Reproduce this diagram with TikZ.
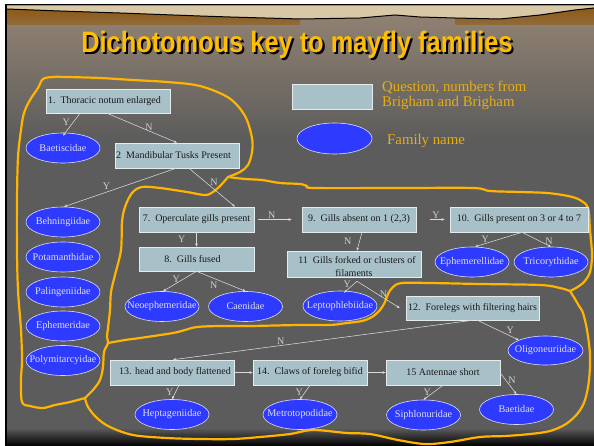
\documentclass[tikz,border=0pt]{standalone}
\usepackage{fontspec}
\setmainfont{Liberation Serif}
\newfontfamily\titlefont{Liberation Sans}
\usetikzlibrary{shapes.geometric,arrows.meta,calc}
\definecolor{famblue}{HTML}{2E3BFF}
\definecolor{famtext}{HTML}{DCDCFF}
\definecolor{boxfill}{HTML}{A8C0C8}
\definecolor{boxline}{HTML}{E4ECEC}
\definecolor{boxtext}{HTML}{1A1A1A}
\definecolor{linec}{HTML}{DADADA}
\definecolor{lblc}{HTML}{D0D0D0}
\definecolor{loopc}{HTML}{FFB400}
\definecolor{legc}{HTML}{E8AE10}
\definecolor{titlec}{HTML}{FFBE00}
\definecolor{slidegray}{HTML}{5C5C5C}
\definecolor{slidetop}{HTML}{948473}
\definecolor{sky}{HTML}{D8C8A8}
\definecolor{hill}{HTML}{8E5A16}
\newcommand\famtxt[1]{\makebox[0pt]{#1}}
\newcommand\titletxt{Dichotomous key to mayfly families}
\begin{document}
\begin{tikzpicture}[x=1pt,y=-1pt,
  qbox/.style={draw=boxline, fill=boxfill, line width=0.6pt, minimum height=25pt,
    inner xsep=1pt, inner ysep=1pt, font=\fontsize{10}{12.5}\selectfont, text=boxtext, align=center},
  fam/.style={ellipse, draw=famtext, line width=0.6pt, fill=famblue, text=famtext,
    minimum width=74pt, minimum height=30pt, inner sep=0pt, font=\fontsize{10.2}{12}\selectfont},
  arr/.style={draw=linec, line width=0.55pt, -{Stealth[length=3.2pt,width=2.6pt]}},
  lbl/.style={text=lblc, font=\fontsize{10}{10}\selectfont, inner sep=1pt},
  loopy/.style={draw=loopc, line width=2.2pt, line cap=round, line join=round}]
\useasboundingbox (0,0) rectangle (594,446);
% ---------- background ----------
\fill[white] (0,0) rectangle (594,446);
\fill[black] (5,4) rectangle (594,446);
\shade[top color=slidetop, bottom color=slidegray] (7,6) rectangle (594,140);
\fill[slidegray] (7,139) rectangle (594,429);
\shade[top color=slidegray, bottom color=black] (7,428) rectangle (594,446);
% landscape band
\fill[sky] (7,6) -- (594,6) -- (594,8) -- (575,10) -- (540,15) -- (500,19) -- (455,18) -- (420,17)
  -- (395,15) -- (360,18) -- (300,19) -- (230,17) -- (200,16) -- (120,13) -- (60,11) -- (7,9) -- cycle;
\shade[top color=hill, bottom color=hill!60!slidetop] (7,9) -- (60,11) -- (120,13) -- (200,16) -- (230,17)
  -- (300,19) -- (300,25) -- (7,25) -- cycle;
\shade[top color=hill, bottom color=hill!60!slidetop] (455,18) -- (500,19) -- (540,15) -- (575,10)
  -- (594,8) -- (594,25) -- (455,25) -- cycle;
\draw[black, line width=1pt] (7,9) -- (60,11) -- (120,13) -- (200,16) -- (230,17) -- (300,19) -- (360,18)
  -- (395,15) -- (420,17) -- (455,18) -- (500,19) -- (540,15) -- (575,10) -- (594,8);
% ---------- title (with its drop shadow) ----------
\node[text=titlec, inner sep=0pt] (title) at (297,46)
  {\titlefont\bfseries\fontsize{29.5}{29.5}\selectfont\scalebox{0.86}[1]{\rlap{\hspace{2.4pt}\raisebox{-2.2pt}{\color{black}\titletxt}}\titletxt}};
% ---------- yellow loops ----------
\draw[loopy] plot[smooth,tension=0.55] coordinates {(228,177) (240,172) (248,165) (252,152) (252,138)
  (245,116) (229,98) (200,86) (167,82) (133,80) (100,78) (67,77) (53,77) (43,79) (38,88) (30,100)
  (24,113) (21,130) (18,157) (17,200) (17,250) (18,290) (21,330) (22,360) (21,380) (22,402) (30,406)
  (43,408) (55,405) (70,402) (85,398)};
\draw[loopy] plot[smooth,tension=0.55] coordinates {(228,177) (221,185) (213,192) (205,195) (187,192)
  (160,188) (142,187) (132,193) (125,207) (122,222) (121,250) (115,275) (111,292) (110,310) (108,328)
  (107,337) (108,343) (104,352) (103,367) (100,380) (93,390) (85,398)};
\draw[loopy] plot[smooth,tension=0.55] coordinates {(228,177) (245,179) (262,180) (280,183) (300,184)
  (307,186) (315,188) (400,188) (473,188) (490,191) (520,192) (547,193) (568,196) (580,200) (588,208)
  (590,230) (592,255) (590,272) (584,282) (576,288) (570,291)};
\draw[loopy] plot[smooth,tension=0.55] coordinates {(108,343) (125,340) (140,338) (173,333) (185,330)
  (197,327) (220,326) (250,326) (300,325) (330,325) (347,323) (362,321) (372,317) (380,310) (385,302)
  (388,294) (393,287) (402,283) (430,283) (480,284) (540,285) (560,288) (570,291)};
\draw[loopy] plot[smooth,tension=0.55] coordinates {(570,291) (575,299) (579,306) (583,313) (587,330)
  (590,355) (589,380) (585,400) (578,413) (566,424) (550,431) (530,434) (505,436) (480,437) (450,442)
  (425,444) (398,440) (370,434) (347,433) (313,430) (290,434) (260,437) (233,439) (200,439) (167,438)
  (133,435) (110,427) (97,418) (88,407) (85,398)};
% ---------- legend ----------
\node[qbox, minimum width=80pt] (lq) at (332,96.5) {};
\node[fam, minimum width=75pt, minimum height=31pt] (le) at (334.5,138.5) {};
\node[anchor=west, align=left, text=legc, inner sep=0pt, font=\fontsize{14.8}{15}\selectfont] (legq)
  at (382,95) {Question, numbers from\\Brigham and Brigham};
\node[anchor=west, text=legc, inner sep=0pt, font=\fontsize{14.8}{15}\selectfont] (legf)
  at (387,141) {Family name};
% ---------- question boxes ----------
\node[qbox, minimum width=124pt, minimum height=24pt] (q1) at (108,101)
  {1.\ \ Thoracic notum enlarged\hspace{7pt}};
\node[qbox, minimum width=124pt, inner xsep=0pt] (q2) at (177,155.5)
  {2\ \ Mandibular Tusks Present\hspace{7pt}};
\node[qbox, minimum width=115pt] (q7) at (196.5,219.5) {7.\ \ Operculate gills present};
\node[qbox, minimum width=115pt, minimum height=24pt] (q8) at (196.5,259) {8.\ \ Gills fused\hspace{8pt}};
\node[qbox, minimum width=114pt] (q9) at (359,219.5) {9.\ \ Gills absent on 1 (2,3)};
\node[qbox, minimum width=138pt] (q10) at (519,219.5) {10.\ \ Gills present on 3 or 4 to 7};
\node[qbox, minimum width=134pt, minimum height=26pt, inner ysep=0pt, text depth=0pt] (q11) at (354,264)
  {\rule{0pt}{12pt}\hspace{6pt}11\ \ Gills forked or clusters of\\filaments};
\node[qbox, minimum width=133pt, minimum height=24pt] (q12) at (472.5,308) {12.\ \ Forelegs with filtering hairs};
\node[qbox, minimum width=124pt] (q13) at (172,372.5) {\hspace{6pt}13. head and body flattened};
\node[qbox, minimum width=114pt] (q14) at (310,372.5) {14.\ \ Claws of foreleg bifid};
\node[qbox, minimum width=114pt] (q15) at (443,372.5) {15 Antennae short};
% ---------- families ----------
\node[fam] (bae) at (63,148) {\famtxt{Baetiscidae}};
\node[fam] (beh) at (63,222) {\famtxt{Behningiidae}};
\node[fam] (pot) at (63,257) {\famtxt{Potamanthidae}};
\node[fam] (pal) at (63,292) {\famtxt{Palingeniidae}};
\node[fam] (eph) at (63,326) {\famtxt{Ephemeridae}};
\node[fam] (pol) at (63,360.5) {\famtxt{Polymitarcyidae}};
\node[fam] (neo) at (162,306.5) {\famtxt{Neoephemeridae}};
\node[fam] (cae) at (245.5,306.5) {\famtxt{Caenidae}};
\node[fam] (lep) at (340,306) {\famtxt{Leptophlebiidae}};
\node[fam] (emr) at (472,262) {\famtxt{Ephemerellidae}};
\node[fam] (tri) at (551,262) {\famtxt{Tricorythidae}};
\node[fam, minimum width=75pt, minimum height=29pt] (oli) at (545.5,350.5) {\famtxt{Oligoneuriidae}};
\node[fam] (hep) at (172,414.5) {\famtxt{Heptageniidae}};
\node[fam] (met) at (300,414.5) {\famtxt{Metrotopodidae}};
\node[fam] (sip) at (423.5,415) {\famtxt{Siphlonuridae}};
\node[fam] (bat) at (516.5,409.5) {\famtxt{Baetidae}};
% ---------- connectors ----------
\draw[arr] ([xshift=-28pt]q1.south) -- node[lbl, pos=0.4, left=2pt] {Y} ([yshift=-3pt]bae.north);
\draw[arr] ([xshift=-1pt]q1.south) -- node[lbl, pos=0.6, anchor=south, inner sep=0pt] {N} (q2.north);
\draw[arr] ([xshift=-1pt]q2.south) -- node[lbl, pos=0.62, above=1pt] {Y} ([xshift=1pt]beh.north);
\draw[arr] ([xshift=12pt]q2.south) -- node[lbl, pos=0.35, right=4pt] {N} ([xshift=38.5pt]q7.north);
\draw[arr] (q7.south) -- node[lbl, pos=0.5, left=10pt] {Y} (q8.north);
\draw[arr] ([xshift=4pt]q7.east) -- node[lbl, pos=0.4, above=0pt] {N} ([xshift=-10pt]q9.west);
\draw[arr] (q8.south) -- node[lbl, pos=0.4, left=2pt] {Y} ([xshift=1pt]neo.north);
\draw[arr] (q8.south) -- node[lbl, pos=0.35, below=2pt] {N} (cae.north);
\draw[arr] ([xshift=14pt]q9.east) -- node[lbl, pos=0.4, above=0pt] {Y} ([xshift=-5pt]q10.west);
\draw[arr] ([xshift=3pt]q9.south) -- node[lbl, pos=0.5, left=7pt] {N} ([xshift=3pt]q11.north);
\draw[arr] ([xshift=3pt]q10.south) -- node[lbl, pos=0.78, above=0pt] {Y} ([xshift=3pt]emr.north);
\draw[arr] ([xshift=3pt]q10.south) -- node[lbl, pos=0.93, above=0pt] {N} (tri.north);
\draw[arr] ([xshift=3pt,yshift=-4pt]q11.south) -- node[lbl, pos=0.3, left=1pt] {Y} ([xshift=4pt,yshift=-2pt]lep.north);
\draw[arr] ([xshift=3pt,yshift=-4pt]q11.south) -- node[lbl, pos=0.62, above=-1pt] {N} ([xshift=-6pt]q12.west);
\draw[arr] ([xshift=5pt]q12.south) -- node[lbl, pos=0.7, above right=-1pt] {Y} (oli.north west);
\draw[arr] (q12.south) -- node[lbl, pos=0.64, above=0pt] {N} ([xshift=1pt]q13.north);
\draw[arr] (q13.east) -- (q14.west);
\draw[arr] (q14.east) -- (q15.west);
\draw[arr] ([xshift=7pt]q13.south) -- node[lbl, pos=0.5, left=1pt] {Y} (hep.north);
\draw[arr] (q14.south) -- node[lbl, pos=0.5, left=1pt] {Y} (met.north);
\draw[arr] (q15.south) -- node[lbl, pos=0.45, left=2pt] {Y} (sip.north);
\draw[arr] ([yshift=-0.5pt]q15.east) -- node[lbl, pos=0.35, right=1pt] {N} (bat.north);
\end{tikzpicture}
\end{document}
